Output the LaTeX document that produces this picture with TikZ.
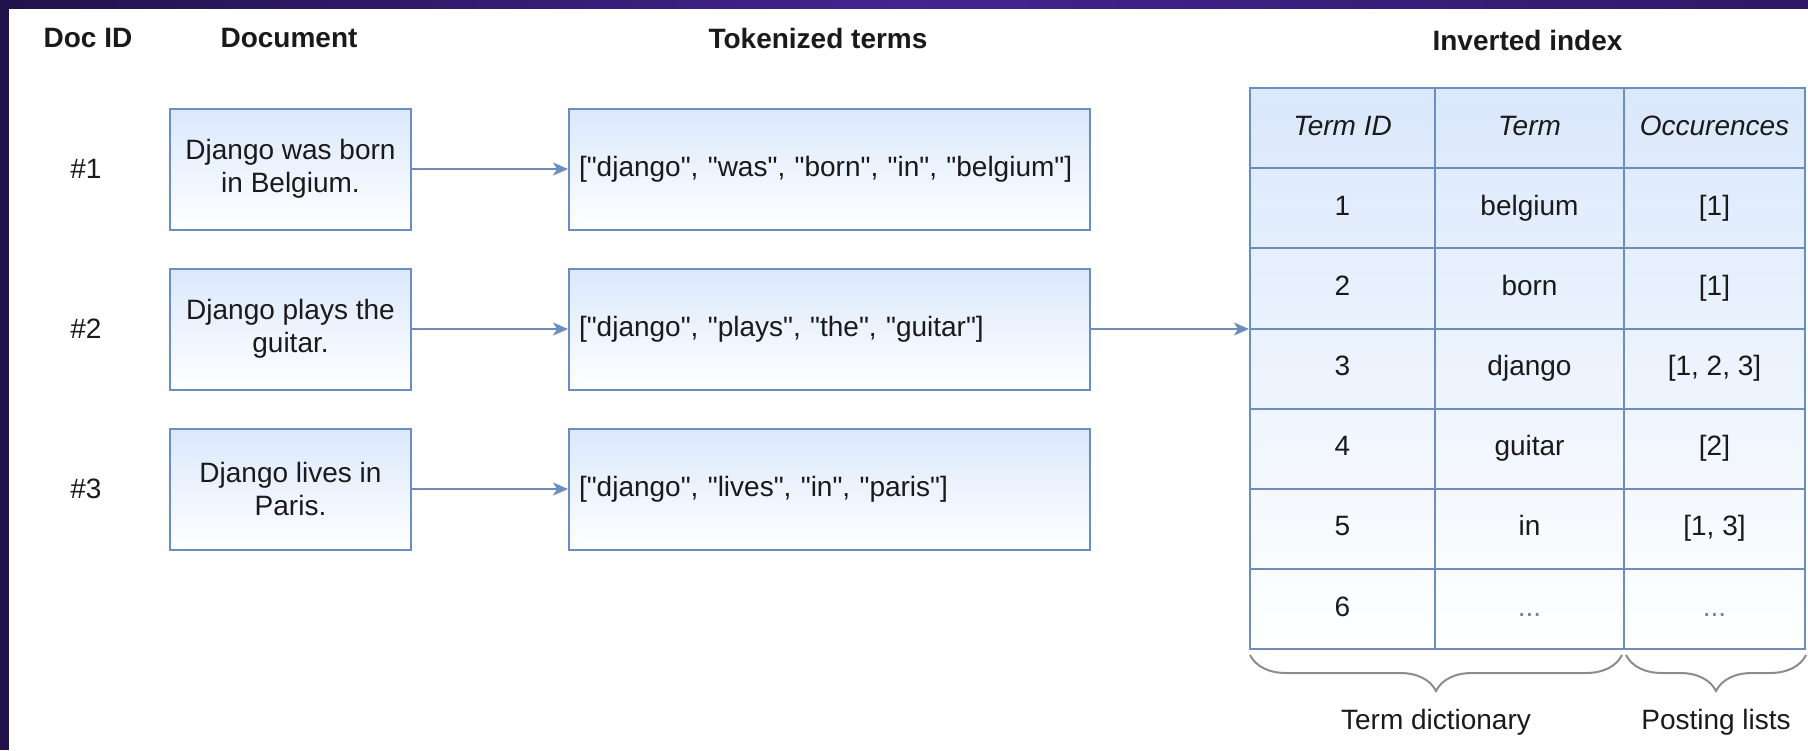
\documentclass[tikz,border=0pt]{standalone}
\usepackage{fontspec}
\setmainfont{Liberation Sans}
\usetikzlibrary{arrows.meta, decorations.pathreplacing}

\definecolor{boxblue}{HTML}{DAE8FC}
\definecolor{boxline}{HTML}{6C8EBF}
\definecolor{framedark}{HTML}{21124A}
\definecolor{framelight}{HTML}{44248F}
\definecolor{bracegray}{HTML}{8C8C8C}
\definecolor{ink}{HTML}{1A1A1A}

\tikzset{
    header/.style={font=\bfseries, text=ink},
    plain/.style={text=ink},
    cell/.style={text=ink, text height=10pt, text depth=3pt},
    docbox/.style={draw=boxline, line width=1pt, top color=boxblue, bottom color=white,
        minimum width=120.5pt, minimum height=60.5pt, inner sep=0pt, align=center, text=ink},
    tokbox/.style={docbox, minimum width=260.5pt, text width=250.5pt, inner xsep=5pt, align=left},
    tablebox/.style={draw=boxline, line width=1pt, top color=boxblue, bottom color=white,
        minimum width=277.5pt, minimum height=280.5pt, inner sep=0pt},
    grid/.style={draw=boxline, line width=1pt},
    link/.style={draw=boxline, line width=1pt, -{Stealth[length=7.5pt, width=6.5pt, inset=2pt]}},
    bracket/.style={draw=bracegray, line width=1pt, decorate,
        decoration={brace, mirror, amplitude=18pt}}
}
\newcommand{\qt}[1]{\textquotedbl#1\textquotedbl}
\newcommand{\more}{\textcolor{gray}{...}}

\begin{document}
\fontsize{14}{16.5}\selectfont
\begin{tikzpicture}[x=0.5pt, y=-0.5pt]
    \useasboundingbox (0,0) rectangle (1808,750);
    \fill[white] (0,0) rectangle (1808,750);
    \fill[left color=framedark, right color=framedark!60!framelight, middle color=framelight] (0,0) rectangle (1808,8);
    \fill[framedark] (0,0) rectangle (9,750);

    % column titles
    \node[header] (hid)  at (88,38)    {Doc ID};
    \node[header] (hdoc) at (289,38)   {Document};
    \node[header] (htok) at (818,38)   {Tokenized terms};
    \node[header] (hinv) at (1527.5,40) {Inverted index};

    % documents and their terms
    \node[plain] (num1) at (86,169) {\#1};
    \node[plain] (num2) at (86,329) {\#2};
    \node[plain] (num3) at (86,489) {\#3};
    \node[docbox] (doc1) at (290.5,169) {Django was born\\in Belgium.};
    \node[docbox] (doc2) at (290.5,329) {Django plays the\\guitar.};
    \node[docbox] (doc3) at (290.5,489) {Django lives in\\Paris.};
    \node[tokbox] (tok1) at (829.5,169) {[\qt{django}, \qt{was}, \qt{born}, \qt{in}, \qt{belgium}]};
    \node[tokbox] (tok2) at (829.5,329) {[\qt{django}, \qt{plays}, \qt{the}, \qt{guitar}]};
    \node[tokbox] (tok3) at (829.5,489) {[\qt{django}, \qt{lives}, \qt{in}, \qt{paris}]};
    \foreach \i in {1,2,3}
        \draw[link] (doc\i) -- (tok\i);

    % inverted index
    \node[tablebox] (index) at (1527.5,368.5) {};
    \foreach \y in {168,248,329,409,489,569}
        \draw[grid] (1250,\y) -- (1805,\y);
    \draw[grid] (1435,88) -- (1435,649);
    \draw[grid] (1624,88) -- (1624,649);
    \foreach \r/\a/\b/\c in {0/\textit{Term ID}/\textit{Term}/\textit{Occurences},
        1/1/belgium/{[1]}, 2/2/born/{[1]}, 3/3/django/{[1, 2, 3]},
        4/4/guitar/{[2]}, 5/5/in/{[1, 3]}, 6/6/\more/\more} {
        \node[cell] (cid\r)   at (1342.5,128+80.17*\r) {\a};
        \node[cell] (cterm\r) at (1529.5,128+80.17*\r) {\b};
        \node[cell] (cocc\r)  at (1714.5,128+80.17*\r) {\c};
    }
    \draw[link] (tok2.east) -- (tok2.east -| index.west);

    % braces below the table
    \draw[bracket] (1250,655) -- (1622,655);
    \draw[bracket] (1626,655) -- (1806,655);
    \node[plain] (dict) at (1436,722) {Term dictionary};
    \node[plain] (post) at (1716,722) {Posting lists};
\end{tikzpicture}
\end{document}
